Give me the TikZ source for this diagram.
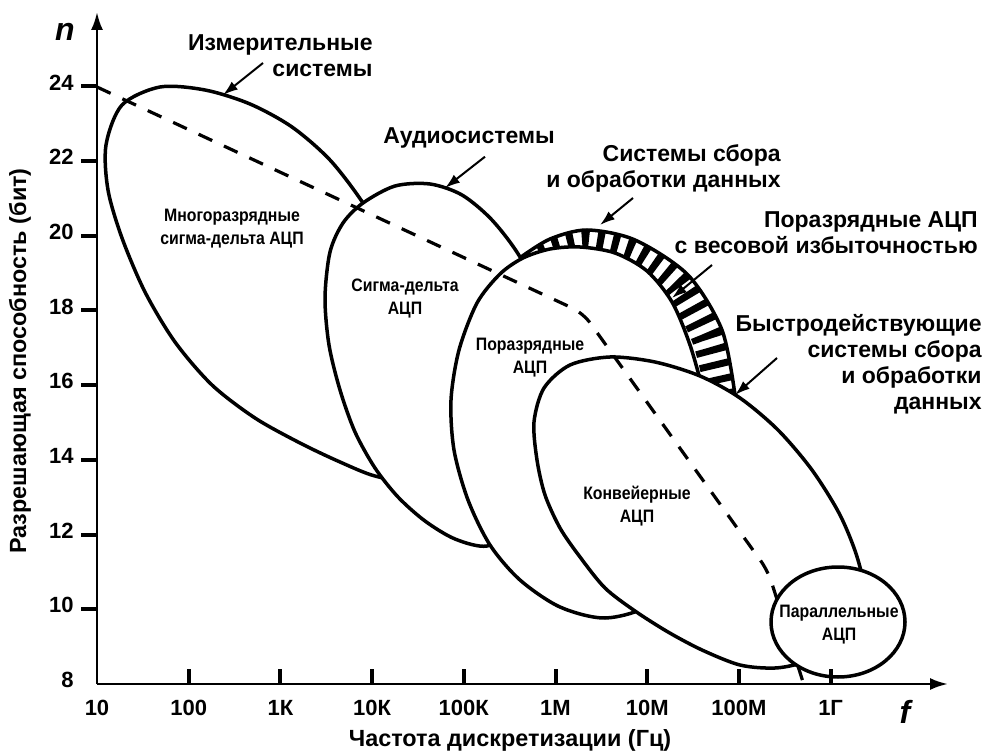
\documentclass[tikz,border=0pt]{standalone}
\usepackage{fontspec}
\setmainfont{Liberation Sans}
\newfontfamily\narrowfont[FakeStretch=0.88]{Liberation Sans}
\usetikzlibrary{arrows.meta}

\begin{document}
\begin{tikzpicture}[x=0.5pt,y=-0.5pt,
        blob/.style={draw=black,fill=white,line width=1.75pt},
        lbl/.style={font=\bfseries\fontsize{11.5}{13}\selectfont,inner sep=0pt},
        inlbl/.style={font=\narrowfont\bfseries\fontsize{9}{11.5}\selectfont,align=center,inner sep=0pt},
        ticklbl/.style={font=\bfseries\fontsize{11}{13}\selectfont,inner sep=0pt},
        axlbl/.style={font=\bfseries\fontsize{11.7}{13}\selectfont,inner sep=0pt},
        ptr/.style={-{Latex[length=7.5pt,width=5pt]},line width=1pt},
        tck/.style={line width=2pt}]
        \useasboundingbox (0,0) rectangle (990,753);

        \draw[blob] plot[smooth cycle] coordinates {(160,87) (205,90) (250,104) (292,127) (330,160) (363,203) (390,250) (412,310) (425,375) (425,440) (405,478) (375,476) (340,462) (300,443) (255,418) (212,385) (175,342) (145,292) (122,238) (108,190) (106,145) (122,105)};
        \draw[blob] plot[smooth cycle] coordinates {(363,203) (395,186) (430,184) (462,195) (492,220) (520,257) (542,305) (553,360) (553,420) (540,480) (515,528) (487,546) (455,539) (425,521) (398,497) (375,468) (355,432) (340,390) (329,345) (325,298) (330,252) (343,223)};

        \draw[blob] plot[smooth] coordinates {(521,257) (550,239) (587,230) (635,240) (688,275) (722,330) (735,395)} -- (700,430) -- (560,320) -- cycle;
        \begin{scope}
            \clip plot[smooth] coordinates {(521,257) (550,239) (587,230) (635,240) (688,275) (722,330) (735,395)} -- (700,430) -- (560,320) -- cycle;
            \draw[line width=16pt,dash pattern=on 3.5pt off 4pt] plot[smooth] coordinates {(525,258) (555,246) (587,240) (635,252) (678,284) (707,336) (722,395)};
        \end{scope}

        \draw[blob] plot[smooth cycle] coordinates {(523,258) (550,249) (580,247) (615,253) (647,271) (672,302) (690,345) (704,395) (716,450) (712,510) (690,565) (650,605) (605,618) (560,607) (520,580) (490,545) (468,500) (454,450) (451,400) (459,350) (477,303) (500,274)};
        \draw[blob] plot[smooth cycle] coordinates {(610,357) (655,362) (700,376) (740,398) (778,430) (812,470) (840,515) (858,560) (866,605) (850,645) (805,662) (775,668) (740,665) (702,650) (668,632) (635,611) (605,588) (580,557) (560,528) (545,495) (537,460) (534,422) (544,388) (570,365)};

        \draw[line width=1.6pt,dash pattern=on 7.5pt off 6.5pt,rounded corners=6pt] (97,87) -- (583,313) -- (768,571) -- (803,682);

        \draw[blob] (838,622) ellipse [x radius=67, y radius=55];

        \node[inlbl] (mult) at (232,229) {Многоразрядные\\сигма-дельта АЦП};
        \node[inlbl] (sd) at (405,299) {Сигма-дельта\\АЦП};
        \node[inlbl] (sar) at (530,358) {Поразрядные\\АЦП};
        \node[inlbl] (pipe) at (637,506) {Конвейерные\\АЦП};
        \node[inlbl] (flash) at (839,625) {Параллельные\\АЦП};

        \node[lbl,align=right,anchor=east] (meas) at (373,56) {Измерительные\\системы};
        \node[lbl] (audio) at (469,138) {Аудиосистемы};
        \node[lbl,align=right,anchor=east] (daq) at (781,168) {Системы сбора\\и обработки данных};
        \node[lbl,align=right,anchor=east] (wgt) at (978,233) {Поразрядные АЦП\\с весовой избыточностью};
        \node[lbl,align=right,anchor=east] (fast) at (982,364) {Быстродействующие\\системы сбора\\и обработки\\данных};

        \coordinate (measTip) at (223,95);
        \coordinate (audioTip) at (445,188);
        \coordinate (daqTip) at (600,225);
        \coordinate (wgtTip) at (672,298);
        \coordinate (fastTip) at (735,395);
        \draw[ptr] ([shift={(-110,7)}]meas.east) -- (measTip);
        \draw[ptr] ([shift={(16,8)}]audio.south) -- (audioTip);
        \draw[ptr] ([shift={(-148,30)}]daq.east) -- (daqTip);
        \draw[ptr] ([shift={(-266,32)}]wgt.east) -- (wgtTip);
        \draw[ptr] ([shift={(-205,-6)}]fast.east) -- (fastTip);

        \draw[line width=1.3pt,-{Latex[length=9pt,width=6pt]}] (97,684) -- (97,12);
        \draw[line width=1.3pt,-{Latex[length=9pt,width=6pt]}] (97,684) -- (948,684);
        \foreach \n in {10,12,...,24} {
            \draw[tck] (81,{684-37.35*(\n-8)}) -- (97,{684-37.35*(\n-8)});
        }
        \foreach \n in {8,10,...,24} {
            \node[ticklbl,anchor=east] (y\n) at (74,{680-37.35*(\n-8)}) {\n};
        }
        \foreach \k in {1,...,8} {
            \draw[tck] ({97+91.7*\k},684) -- ({97+91.7*\k},669);
        }
        \foreach \lab [count=\k from 0] in {10,100,1К,10К,100К,1М,10М,100М,1Г} {
            \node[ticklbl] (x\k) at ({97+91.7*\k},708) {\lab};
        }
        \node[font=\bfseries\itshape\fontsize{16}{16}\selectfont] (nlab) at (65,32) {n};
        \node[font=\bfseries\itshape\fontsize{16}{16}\selectfont] (flab) at (905,712) {f};
        \node[axlbl] (xname) at (510,740) {Частота дискретизации (Гц)};
        \node[axlbl,rotate=90] (yname) at (20,361) {Разрешающая способность (бит)};
    \end{tikzpicture}
\end{document}
